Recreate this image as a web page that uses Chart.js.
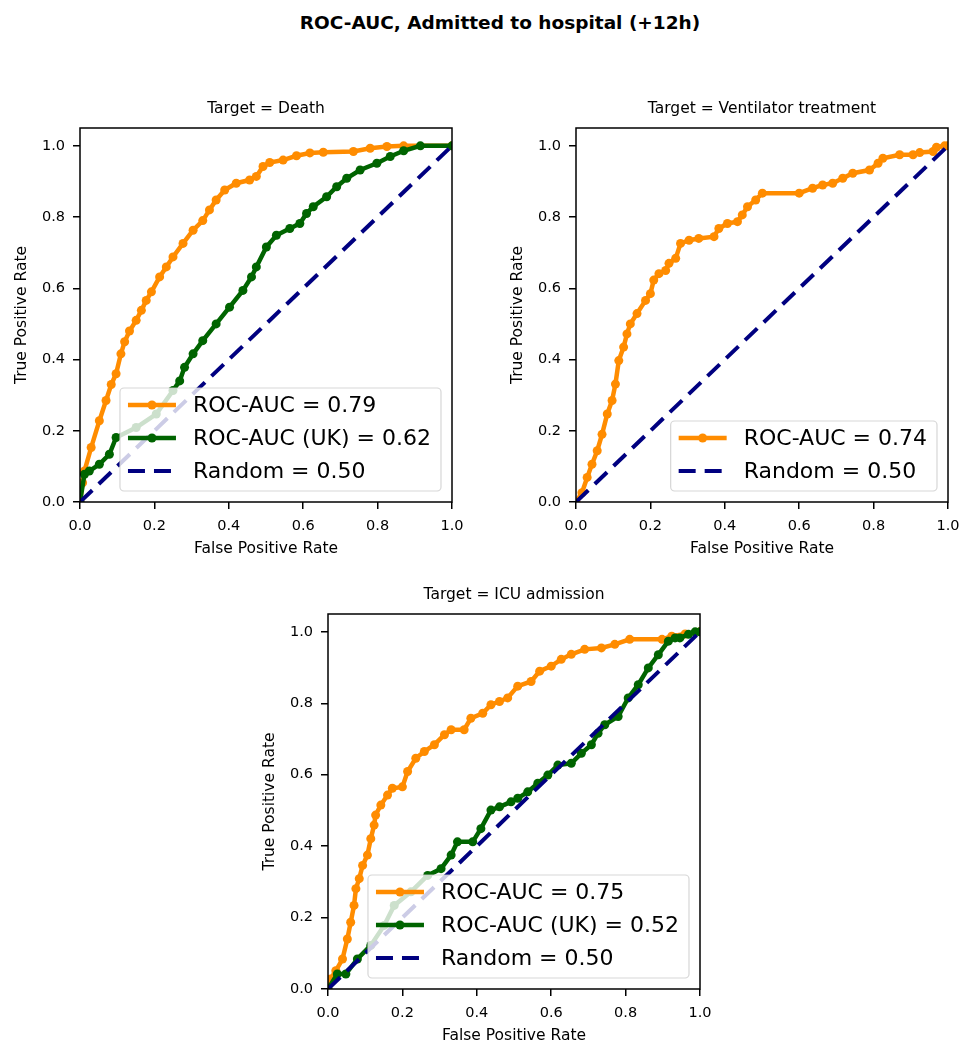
<!DOCTYPE html>
<html>
<head>
<meta charset="utf-8">
<script src="https://cdn.jsdelivr.net/npm/chart.js@4.4.0/dist/chart.umd.min.js"></script>
<style>
    body { margin: 0; background: #fff; width: 976px; height: 1060px; position: relative; overflow: hidden; font-family: "DejaVu Sans", sans-serif; }
    #suptitle { position: absolute; left: 0; top: 12px; width: 1000px; text-align: center; font-weight: bold; font-size: 18.5px; color: #000; }
    canvas { position: absolute; }
</style>
</head>
<body>
<div id="suptitle">ROC-AUC, Admitted to hospital (+12h)</div>
<canvas id="deathChart" width="473" height="472" style="left:0px;top:90px"></canvas>
<canvas id="ventChart" width="473" height="472" style="left:496px;top:90px"></canvas>
<canvas id="icuChart" width="473" height="473" style="left:248px;top:576px"></canvas>
<script>
// ---- data ----
const xTicks = [0, 0.2, 0.4, 0.6, 0.8, 1.0];
const yTicks = [0, 0.2, 0.4, 0.6, 0.8, 1.0];
const randomFpr = [0, 1];
const randomTpr = [0, 1];

const deathFpr = [0, 0.007, 0.012, 0.03, 0.052, 0.07, 0.084, 0.097, 0.11, 0.12, 0.133, 0.151, 0.165, 0.178, 0.192, 0.214, 0.232, 0.25, 0.277, 0.304, 0.33, 0.348, 0.366, 0.389, 0.42, 0.456, 0.474, 0.492, 0.51, 0.546, 0.582, 0.618, 0.654, 0.735, 0.78, 0.825, 0.87, 1.0];
const deathTpr = [0, 0.054, 0.087, 0.153, 0.228, 0.285, 0.33, 0.36, 0.416, 0.45, 0.48, 0.51, 0.538, 0.566, 0.59, 0.632, 0.66, 0.688, 0.726, 0.763, 0.79, 0.82, 0.848, 0.876, 0.895, 0.904, 0.914, 0.942, 0.953, 0.96, 0.972, 0.98, 0.982, 0.984, 0.993, 0.998, 1.0, 1.0];

const deathUkFpr = [0, 0.012, 0.025, 0.052, 0.079, 0.097, 0.151, 0.205, 0.25, 0.268, 0.281, 0.304, 0.33, 0.366, 0.402, 0.438, 0.461, 0.474, 0.501, 0.528, 0.564, 0.591, 0.609, 0.627, 0.663, 0.69, 0.717, 0.753, 0.798, 0.834, 0.87, 0.915, 1.0];
const deathUkTpr = [0, 0.078, 0.087, 0.106, 0.134, 0.181, 0.209, 0.247, 0.313, 0.34, 0.378, 0.416, 0.453, 0.5, 0.547, 0.594, 0.632, 0.66, 0.716, 0.749, 0.768, 0.782, 0.81, 0.829, 0.857, 0.885, 0.909, 0.932, 0.951, 0.97, 0.986, 1.0, 1.0];

const ventFpr = [0, 0.016, 0.03, 0.043, 0.057, 0.07, 0.084, 0.097, 0.106, 0.115, 0.128, 0.137, 0.146, 0.164, 0.187, 0.2, 0.209, 0.223, 0.241, 0.25, 0.268, 0.281, 0.304, 0.33, 0.371, 0.384, 0.407, 0.434, 0.447, 0.461, 0.483, 0.501, 0.6, 0.636, 0.663, 0.69, 0.717, 0.744, 0.789, 0.812, 0.825, 0.87, 0.906, 0.924, 0.96, 0.969, 0.991, 1.0];
const ventTpr = [0, 0.026, 0.069, 0.106, 0.144, 0.19, 0.247, 0.285, 0.331, 0.397, 0.435, 0.472, 0.5, 0.529, 0.566, 0.585, 0.623, 0.641, 0.65, 0.67, 0.684, 0.726, 0.735, 0.74, 0.745, 0.768, 0.782, 0.787, 0.806, 0.829, 0.848, 0.867, 0.867, 0.881, 0.89, 0.895, 0.909, 0.923, 0.932, 0.951, 0.965, 0.975, 0.975, 0.981, 0.984, 0.996, 1.0, 1.0];

const icuFpr = [0, 0.007, 0.021, 0.039, 0.052, 0.061, 0.07, 0.075, 0.084, 0.093, 0.106, 0.115, 0.124, 0.128, 0.142, 0.16, 0.173, 0.2, 0.214, 0.236, 0.259, 0.286, 0.313, 0.331, 0.366, 0.384, 0.416, 0.438, 0.461, 0.483, 0.51, 0.546, 0.569, 0.6, 0.627, 0.654, 0.69, 0.735, 0.771, 0.811, 0.898, 0.924, 0.96, 1.0];
const icuTpr = [0, 0.028, 0.051, 0.084, 0.14, 0.187, 0.234, 0.281, 0.309, 0.346, 0.375, 0.421, 0.459, 0.487, 0.515, 0.543, 0.562, 0.566, 0.609, 0.646, 0.665, 0.684, 0.712, 0.726, 0.726, 0.758, 0.772, 0.796, 0.805, 0.815, 0.848, 0.861, 0.89, 0.904, 0.923, 0.937, 0.951, 0.955, 0.965, 0.979, 0.979, 0.988, 0.994, 1.0];

const icuUkFpr = [0, 0.025, 0.048, 0.079, 0.115, 0.151, 0.178, 0.223, 0.268, 0.304, 0.331, 0.348, 0.389, 0.411, 0.438, 0.461, 0.492, 0.51, 0.537, 0.564, 0.591, 0.618, 0.654, 0.681, 0.708, 0.726, 0.744, 0.78, 0.807, 0.834, 0.861, 0.888, 0.915, 0.933, 0.946, 0.969, 0.987, 1.0];
const icuUkTpr = [0, 0.042, 0.042, 0.084, 0.122, 0.178, 0.234, 0.272, 0.318, 0.337, 0.375, 0.412, 0.412, 0.449, 0.501, 0.51, 0.524, 0.534, 0.552, 0.576, 0.599, 0.627, 0.632, 0.66, 0.684, 0.716, 0.74, 0.763, 0.815, 0.852, 0.899, 0.936, 0.974, 0.983, 0.983, 0.993, 1.0, 1.0];

const ORANGE = '#ff8c00';
const GREEN = '#006400';
const NAVY = '#000080';
const FONT = '"DejaVu Sans", sans-serif';

function toPoints(xs, ys) {
    return xs.map((x, i) => ({ x: x, y: ys[i] }));
}

// frame, subplot title and matplotlib-like legend (drawn over the lines)
const rocDecor = {
    id: 'rocDecor',
    afterDatasetsDraw(chart, args, opts) {
        const { ctx, chartArea: a } = chart;
        ctx.save();
        ctx.strokeStyle = '#000';
        ctx.lineWidth = 1.5;
        ctx.setLineDash([]);
        ctx.strokeRect(a.left, a.top, a.right - a.left, a.bottom - a.top);

        ctx.fillStyle = '#000';
        ctx.font = '15.5px ' + FONT;
        ctx.textAlign = 'center';
        ctx.textBaseline = 'middle';
        ctx.fillText(opts.title, (a.left + a.right) / 2, a.top - 19);

        const items = opts.items;
        ctx.font = '22px ' + FONT;
        const textW = Math.max(...items.map(it => ctx.measureText(it.label).width));
        const w = 8 + 48 + 17 + textW + 10;
        const h = 17 + (items.length - 1) * 33 + 20;
        const x0 = a.right - 11 - w;
        const y0 = a.bottom - 11 - h;
        ctx.beginPath();
        ctx.roundRect(x0, y0, w, h, 4);
        ctx.fillStyle = 'rgba(255,255,255,0.8)';
        ctx.fill();
        ctx.strokeStyle = 'rgba(204,204,204,0.8)';
        ctx.lineWidth = 1.2;
        ctx.stroke();

        items.forEach((it, i) => {
            const cy = y0 + 17 + i * 33;
            ctx.strokeStyle = it.color;
            ctx.lineWidth = it.dashed ? 4 : 4.5;
            ctx.setLineDash(it.dashed ? [17, 9] : []);
            ctx.beginPath();
            ctx.moveTo(x0 + 8, cy);
            ctx.lineTo(x0 + 56, cy);
            ctx.stroke();
            ctx.setLineDash([]);
            if (!it.dashed) {
                ctx.fillStyle = it.color;
                ctx.beginPath();
                ctx.arc(x0 + 32, cy, 4.5, 0, Math.PI * 2);
                ctx.fill();
            }
            ctx.fillStyle = '#000';
            ctx.textAlign = 'left';
            ctx.textBaseline = 'middle';
            ctx.fillText(it.label, x0 + 73, cy + 1);
        });
        ctx.restore();
    }
};

function makeDataset(s) {
    return {
        label: s.label,
        data: toPoints(s.fpr, s.tpr),
        borderColor: s.color,
        backgroundColor: s.color,
        borderWidth: s.dashed ? 4 : 4.5,
        borderDash: s.dashed ? [17, 9] : [],
        pointRadius: s.dashed ? 0 : 4.5,
        pointBorderWidth: 0,
        pointHoverRadius: 0,
        tension: 0,
        order: s.order
    };
}

function makeChart(canvasId, title, series) {
    const tickFont = { family: FONT, size: 14.5 };
    const labelFont = { family: FONT, size: 15.5 };
    return new Chart(document.getElementById(canvasId), {
        type: 'line',
        data: { datasets: series.map(makeDataset) },
        options: {
            responsive: false,
            animation: false,
            events: [],
            layout: { padding: { top: 38, right: 21, left: 0, bottom: 0 } },
            plugins: {
                legend: { display: false },
                tooltip: { enabled: false },
                rocDecor: {
                    title: title,
                    items: series.map(s => ({ label: s.label, color: s.color, dashed: s.dashed }))
                }
            },
            scales: {
                x: {
                    type: 'linear', min: 0, max: 1,
                    afterBuildTicks: s => { s.ticks = xTicks.map(v => ({ value: v })); },
                    afterFit: s => { s.height = 60; },
                    ticks: { callback: v => v.toFixed(1), font: tickFont, color: '#000', padding: 9, autoSkip: false, maxRotation: 0 },
                    grid: { drawOnChartArea: false, tickLength: 7, color: '#000', lineWidth: 1.5 },
                    border: { display: false },
                    title: { display: true, text: 'False Positive Rate', font: labelFont, color: '#000', padding: { top: 0, bottom: 4 } }
                },
                y: {
                    type: 'linear', min: 0, max: 1.05,
                    afterBuildTicks: s => { s.ticks = yTicks.map(v => ({ value: v })); },
                    afterFit: s => { s.width = 80; },
                    ticks: { callback: v => v.toFixed(1), font: tickFont, color: '#000', padding: 8, autoSkip: false },
                    grid: { drawOnChartArea: false, tickLength: 7, color: '#000', lineWidth: 1.5 },
                    border: { display: false },
                    title: { display: true, text: 'True Positive Rate', font: labelFont, color: '#000', padding: { top: 13, bottom: 0 } }
                }
            }
        },
        plugins: [rocDecor]
    });
}

const randomSeries = { label: 'Random = 0.50', fpr: randomFpr, tpr: randomTpr, color: NAVY, dashed: true, order: 1 };

makeChart('deathChart', 'Target = Death', [
    { label: 'ROC-AUC = 0.79', fpr: deathFpr, tpr: deathTpr, color: ORANGE, dashed: false, order: 3 },
    { label: 'ROC-AUC (UK) = 0.62', fpr: deathUkFpr, tpr: deathUkTpr, color: GREEN, dashed: false, order: 2 },
    randomSeries
]);

makeChart('ventChart', 'Target = Ventilator treatment', [
    { label: 'ROC-AUC = 0.74', fpr: ventFpr, tpr: ventTpr, color: ORANGE, dashed: false, order: 3 },
    randomSeries
]);

makeChart('icuChart', 'Target = ICU admission', [
    { label: 'ROC-AUC = 0.75', fpr: icuFpr, tpr: icuTpr, color: ORANGE, dashed: false, order: 3 },
    { label: 'ROC-AUC (UK) = 0.52', fpr: icuUkFpr, tpr: icuUkTpr, color: GREEN, dashed: false, order: 2 },
    randomSeries
]);
</script>
</body>
</html>
